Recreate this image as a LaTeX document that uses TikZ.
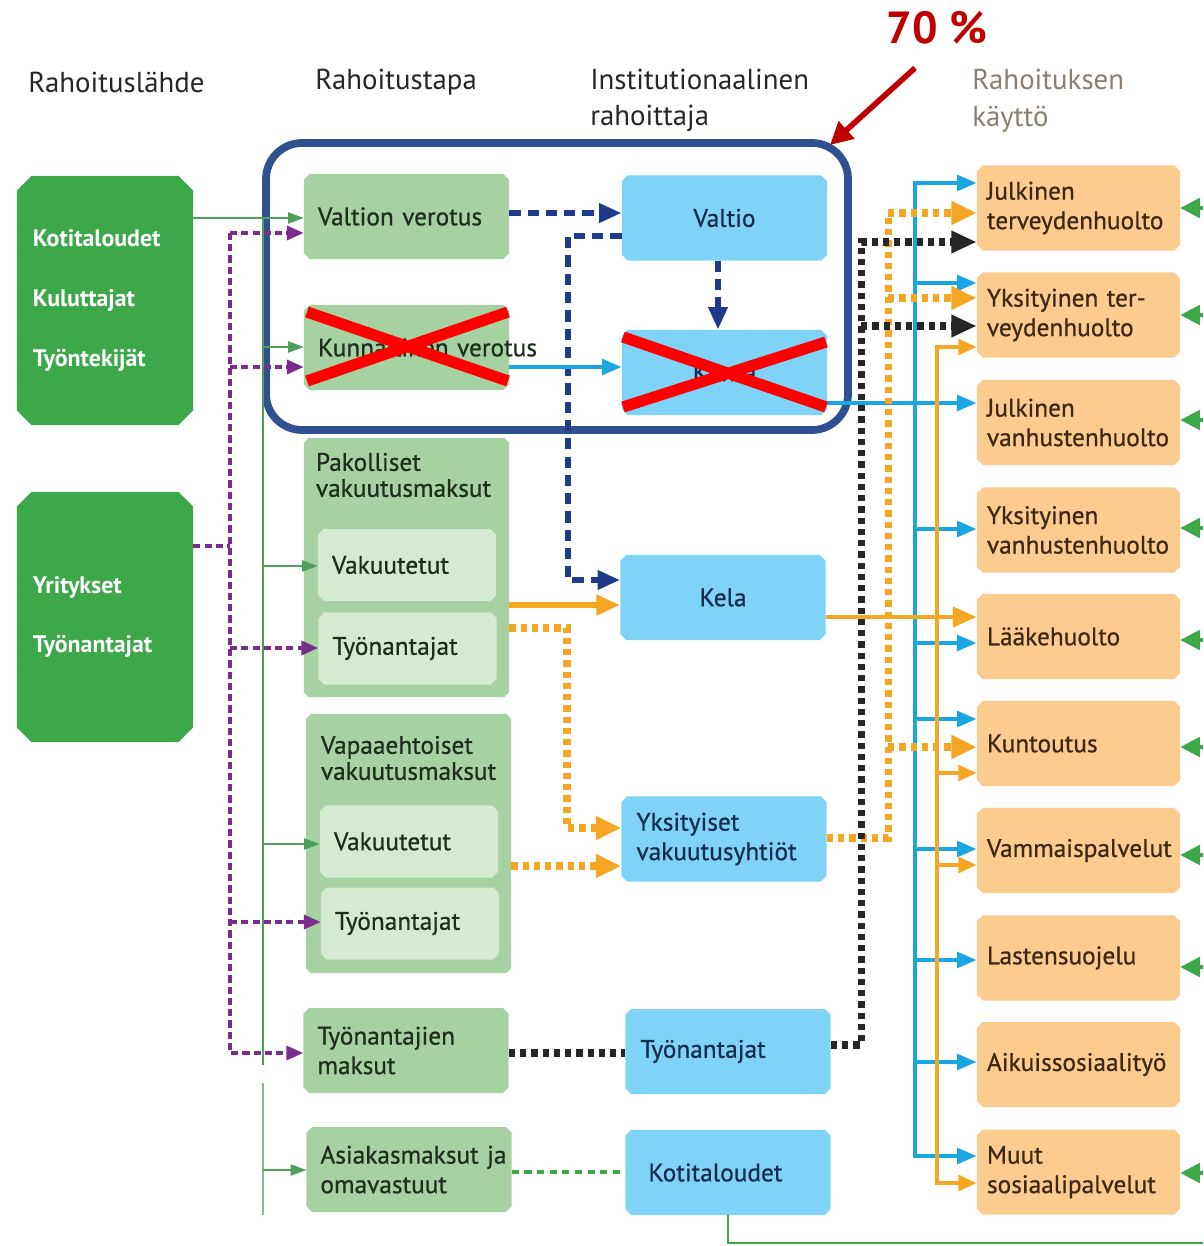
\documentclass[tikz,border=0pt]{standalone}
\usepackage{fontspec}
\setmainfont{PT Sans}
\newfontfamily\boxfont{PT Sans}[FakeBold=0.7]
\usepackage{tikz}
\usetikzlibrary{arrows.meta, shapes.misc}
\usepackage{xcolor}
\definecolor{srcGreen}{RGB}{60,168,74}
\definecolor{tapaGreen}{RGB}{166,209,160}
\definecolor{subGreen}{RGB}{213,234,208}
\definecolor{instBlue}{RGB}{127,211,247}
\definecolor{useOrange}{RGB}{252,203,142}
\definecolor{frameBlue}{RGB}{47,81,144}
\definecolor{navyLine}{RGB}{31,58,138}
\definecolor{cyanLine}{RGB}{25,166,227}
\definecolor{orangeLine}{RGB}{245,166,35}
\definecolor{purpleLine}{RGB}{123,45,142}
\definecolor{thinGreen}{RGB}{79,158,92}
\definecolor{redMark}{RGB}{192,0,0}
\definecolor{headGray}{RGB}{140,126,110}
\definecolor{tapaText}{RGB}{30,45,30}
\definecolor{instText}{RGB}{20,45,75}
\definecolor{useText}{RGB}{60,40,20}
\hyphenpenalty=10000

\begin{document}
\begin{tikzpicture}[x=0.025cm, y=-0.025cm,
    head/.style={font=\fontsize{20.5}{26}\selectfont, text=black!85, inner sep=0pt, align=left},
    src/.style={chamfered rectangle, chamfered rectangle xsep=0.18cm, chamfered rectangle ysep=0.18cm, fill=srcGreen, text=white, font=\bfseries\fontsize{17}{42.5}\selectfont, minimum width=4.4cm, text width=3.6cm, align=left, inner sep=0.02cm},
    tapa/.style={chamfered rectangle, chamfered rectangle xsep=0.07cm, chamfered rectangle ysep=0.07cm, fill=tapaGreen, text=tapaText, font=\boxfont\fontsize{18}{21}\selectfont, minimum width=5.125cm, minimum height=2.125cm, text width=4.425cm, align=left, inner sep=0.05cm},
    sub/.style={tapa, fill=subGreen, minimum width=4.45cm, minimum height=1.8cm, text width=3.75cm},
    ttl/.style={font=\boxfont\fontsize{18}{18.5}\selectfont, text=tapaText, inner sep=0pt, align=left, anchor=west},
    inst/.style={tapa, fill=instBlue, text=instText, text width=4.375cm},
    use/.style={tapa, fill=useOrange, text=useText, minimum width=5.075cm, text width=4.575cm},
    navyarr/.style={navyLine, line width=4pt, dash pattern=on 8pt off 5pt, -{Triangle[length=16pt,width=13pt]}},
    cyanarr/.style={cyanLine, line width=3pt, -{Triangle[length=14pt,width=11pt]}},
    orangearr/.style={orangeLine, line width=4.2pt, -{Triangle[length=17pt,width=14pt]}},
    orangedot/.style={orangeLine, line width=5pt, dash pattern=on 4.5pt off 3.5pt, -{Triangle[length=18pt,width=16pt]}},
    blackdot/.style={black!85, line width=5pt, dash pattern=on 4.5pt off 3.5pt, -{Triangle[length=18pt,width=15pt]}},
    purparr/.style={purpleLine, line width=2.5pt, dash pattern=on 5pt off 3pt, -{Triangle[length=12pt,width=10pt]}},
    thinarr/.style={thinGreen, line width=0.8pt, -{Triangle[length=11pt,width=8pt]}},
    rightarr/.style={srcGreen, line width=2.2pt, -{Triangle[length=14pt,width=14pt]}}
]
\useasboundingbox (0,0) rectangle (1203,1246);

\node[head, anchor=west] (hsrc) at (28,82) {Rahoituslähde};
\node[head, anchor=west] (htapa) at (315,82) {Rahoitustapa};
\node[head, anchor=west] (hinst) at (590,100.5) {Institutionaalinen\\rahoittaja};
\node[head, anchor=west, text=headGray] (huse) at (972,100.5) {Rahoituksen\\käyttö};
\node[font=\bfseries\fontsize{32}{36}\selectfont, text=redMark, inner sep=0pt] (pct) at (937,28) {70 \%};

\draw[frameBlue, line width=5.5pt, rounded corners=0.9cm] (266,143) rectangle (848,430);

\node[src, minimum height=6.225cm] (src1) at (105,300.5) {Kotitaloudet\\Kuluttajat\\Työntekijät};
\node[src, minimum height=6.25cm] (src2) at (105,617) {Yritykset\\Työnantajat};

\node[tapa] (valver) at (406.5,216.5) {Valtion verotus};
\node[tapa] (kunver) at (406.5,347.5) {Kunnallinen~verotus};
\node[tapa, minimum height=6.475cm] (pak) at (406.5,567.5) {};
\node[ttl, xshift=0.3cm] (pakttl) at (pak.west |- 0,475) {Pakolliset\\vakuutusmaksut};
\node[sub] (pakvak) at (407,565) {Vakuutetut};
\node[sub] (paktyo) at (407.5,648.5) {Työnantajat};
\node[tapa, minimum height=6.475cm] (vap) at (408.5,843.5) {};
\node[ttl, xshift=0.375cm] (vapttl) at (vap.west |- 0,758) {Vapaaehtoiset\\vakuutusmaksut};
\node[sub] (vapvak) at (409,841.5) {Vakuutetut};
\node[sub] (vaptyo) at (410,923.5) {Työnantajat};
\node[tapa] (tyomaksut) at (406,1050.5) {Työnantajien\\maksut};
\node[tapa] (asiakas) at (409,1169.5) {Asiakasmaksut~ja\\omavastuut};

\node[inst, align=center] (valtio) at (724.5,218) {Valtio};
\node[inst, align=center] (kunta) at (724.5,372.5) {Kunta};
\node[inst, align=center] (kela) at (723,597.5) {Kela};
\node[inst] (yksvak) at (724,839) {Yksityiset\\vakuutusyhtiöt};
\node[inst] (tyonantajat) at (728,1051.5) {Työnantajat};
\node[inst] (kotital) at (728,1172.5) {\hspace*{0.2cm}Kotitaloudet};

\node[use] (use1) at (1078.5,208) {Julkinen\\terveydenhuolto};
\node[use] (use2) at (1078.5,315) {Yksityinen ter-\\veydenhuolto};
\node[use] (use3) at (1078.5,422.5) {Julkinen\\vanhustenhuolto};
\node[use] (use4) at (1078.5,530) {Yksityinen\\vanhustenhuolto};
\node[use] (use5) at (1078.5,636.5) {Lääkehuolto};
\node[use] (use6) at (1078.5,743.5) {Kuntoutus};
\node[use] (use7) at (1078.5,850.5) {Vammaispalvelut};
\node[use] (use8) at (1078.5,958) {Lastensuojelu};
\node[use] (use9) at (1078.5,1064.5) {Aikuissosiaalityö};
\node[use] (use10) at (1078.5,1172) {Muut\\sosiaalipalvelut};

\draw[thinarr] (src1.east |- 0,218) -- (valver.west |- 0,218);
\draw[thinGreen, line width=0.8pt] (263,218) -- (263,1065);
\draw[thinGreen!70, line width=0.8pt] (263,1083) -- (263,1215);
\foreach \t/\y in {kunver/347, pakvak/566, vapvak/844, asiakas/1170}
  \draw[thinarr] (263,\y) -- (\t.west |- 0,\y);

\draw[purparr, -] (src2.east |- 0,546) -- (230,546);
\draw[purparr] (230,233) -- (230,1053) -- (tyomaksut.west |- 0,1053);
\foreach \t/\y in {valver/233, kunver/367, paktyo/648, vaptyo/922}
  \draw[purparr] (230,\y) -- (\t.west |- 0,\y);

\draw[navyarr] (valver.east |- 0,213) -- (valtio.west |- 0,213);
\draw[navyarr] (valtio.west |- 0,236) -- (568,236) -- (568,580) -- (kela.west |- 0,580);
\draw[navyarr] (valtio.south -| 718,0) -- (kunta.north -| 718,0);

\draw[cyanarr] (kunver.east |- 0,367) -- (kunta.west |- 0,367);
\draw[cyanarr] (kunta.east |- 0,403) -- (use3.west |- 0,403);
\draw[cyanLine, line width=3pt, line cap=rect] (915,183) -- (915,1156);
\foreach \n/\y in {1/183, 2/283, 4/529, 5/643, 6/719, 7/849, 8/960, 9/1062, 10/1156}
  \draw[cyanarr] (915,\y) -- (use\n.west |- 0,\y);

\draw[orangearr] (pak.east |- 0,605) -- (kela.west |- 0,605);
\draw[orangearr, line width=3.5pt] (kela.east |- 0,617) -- (use5.west |- 0,617);
\draw[orangeLine, line width=3.5pt, line cap=rect] (937,347) -- (937,1183);
\foreach \n/\y in {2/347, 6/773, 7/865, 10/1183}
  \draw[orangearr, line width=2.8pt, -{Triangle[length=13pt,width=11pt]}] (937,\y) -- (use\n.west |- 0,\y);

\draw[orangedot] (pak.east |- 0,628) -- (567,628) -- (567,828) -- (yksvak.west |- 0,828);
\draw[orangedot] (vap.east |- 0,866) -- (yksvak.west |- 0,866);
\draw[orangedot] (yksvak.east |- 0,838) -- (888,838) -- (888,213) -- (use1.west |- 0,213);
\foreach \n/\y in {2/298, 6/747}
  \draw[orangedot] (888,\y) -- (use\n.west |- 0,\y);

\draw[blackdot, -] (tyomaksut.east |- 0,1053) -- (tyonantajat.west |- 0,1053);
\draw[blackdot] (tyonantajat.east |- 0,1045) -- (861,1045) -- (861,242) -- (use1.west |- 0,242);
\draw[blackdot] (861,326) -- (use2.west |- 0,326);

\draw[srcGreen, line width=3.5pt, dash pattern=on 5pt off 4pt] (asiakas.east |- 0,1172) -- (kotital.west |- 0,1172);
\draw[srcGreen, line width=2pt] (kotital.south) |- (1203,1243);
\foreach \n/\y in {1/208, 2/315, 3/420, 4/528, 5/640, 6/747, 7/855, 8/967, 10/1173}
  \draw[rightarr] (1203,\y) -- (use\n.east |- 0,\y);

\draw[red, line width=8pt] (307,312) -- (508,381) (307,381) -- (508,312);
\draw[red, line width=8pt] (623,337) -- (826,407) (623,407) -- (826,342);

\coordinate (pcttail) at (915,68);
\coordinate (framecorner) at (830,145);
\draw[redMark, line width=4pt, -{Triangle[length=16pt,width=16pt]}] (pcttail) -- (framecorner);
\end{tikzpicture}
\end{document}
